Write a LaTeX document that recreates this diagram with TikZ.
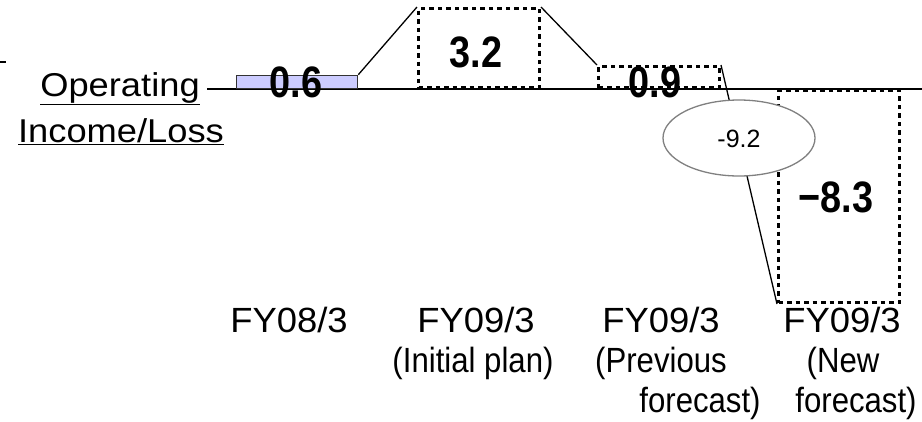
\documentclass[tikz,border=0pt]{standalone}
\usepackage{fontspec}
\setmainfont{Liberation Sans}
\newfontfamily\condfont[FakeStretch=0.86]{Liberation Sans}
\newfontfamily\semifont[FakeStretch=0.89]{Liberation Sans}
\newfontfamily\yrfont[FakeStretch=1.04]{Liberation Sans}
\newfontfamily\widefont[FakeStretch=1.1]{Liberation Sans}
\usetikzlibrary{shapes.geometric}
\definecolor{barfill}{HTML}{CCCCFF}
\begin{document}
\begin{tikzpicture}[x=1pt,y=-1pt,
  dotbox/.style={draw=black,line width=3pt,dash pattern=on 4.5pt off 4pt},
  conn/.style={draw=black,line width=1.3pt},
  bignum/.style={font=\condfont\fontsize{44}{44}\selectfont\bfseries,inner sep=0pt,anchor=base},
  yearlab/.style={font=\yrfont\fontsize{35}{35}\selectfont,inner sep=0pt,anchor=base},
  sublab/.style={font=\semifont\fontsize{35}{35}\selectfont,inner sep=0pt,anchor=base},
  sidelab/.style={font=\widefont\fontsize{33}{33}\selectfont,inner sep=0pt,anchor=base}]
\useasboundingbox (0,0) rectangle (922,421);
% top-left dash
\coordinate (d1) at (0,62);
\coordinate (d2) at (6,62);
\draw[line width=1.3pt] (d1) -- (d2);
% baseline
\coordinate (b0) at (207,89);
\coordinate (b1) at (922,89);
\draw[line width=1.8pt] (b0) -- (b1);
% bars
\node[draw=black!80,line width=1.3pt,fill=barfill,minimum width=121pt,minimum height=13pt,inner sep=0pt,anchor=south west] (bar1) at (236,89) {};
\node[dotbox,minimum width=121pt,minimum height=79pt,inner sep=0pt,anchor=south west] (bar2) at (417,89) {};
\node[dotbox,minimum width=121pt,minimum height=21pt,inner sep=0pt,anchor=south west] (bar3) at (597,89) {};
\node[dotbox,minimum width=121pt,minimum height=212pt,inner sep=0pt,anchor=north west] (bar4) at (777,89) {};
% connectors
\draw[conn] (bar1.north east) -- (bar2.north west);
\draw[conn] (bar2.north east) -- (bar3.north west);
\draw[conn] (bar3.north east) -- (bar4.south west);
% ellipse
\node[ellipse,draw=black!50,line width=1.3pt,fill=white,minimum width=152pt,minimum height=76pt,inner sep=0pt] (ell) at (739,138) {};
\node[font=\fontsize{25}{25}\selectfont,inner sep=0pt,anchor=base] (ellt) at (739,147) {-9.2};
% values
\node[bignum] (v1) at (296,97) {0.6};
\node[bignum] (v2) at (476,67) {3.2};
\node[bignum] (v3) at (655,97) {0.9};
\node[bignum] (v4) at (836,212) {−8.3};
% side labels
\node[sidelab] (op) at (120,96) {\underline{Operating}};
\node[sidelab] (inc) at (121,142) {\underline{Income/Loss}};
% year labels
\node[yearlab] (y1) at (289,332) {FY08/3};
\node[yearlab] (y2) at (476,332) {FY09/3};
\node[sublab] (y2b) at (473,372) {(Initial plan)};
\node[yearlab] (y3) at (661,332) {FY09/3};
\node[sublab] (y3b) at (661,372) {(Previous};
\node[sublab] (y3c) at (700,412) {forecast)};
\node[yearlab] (y4) at (842,332) {FY09/3};
\node[sublab] (y4b) at (843,372) {(New};
\node[sublab] (y4c) at (856,412) {forecast)};
\end{tikzpicture}
\end{document}
